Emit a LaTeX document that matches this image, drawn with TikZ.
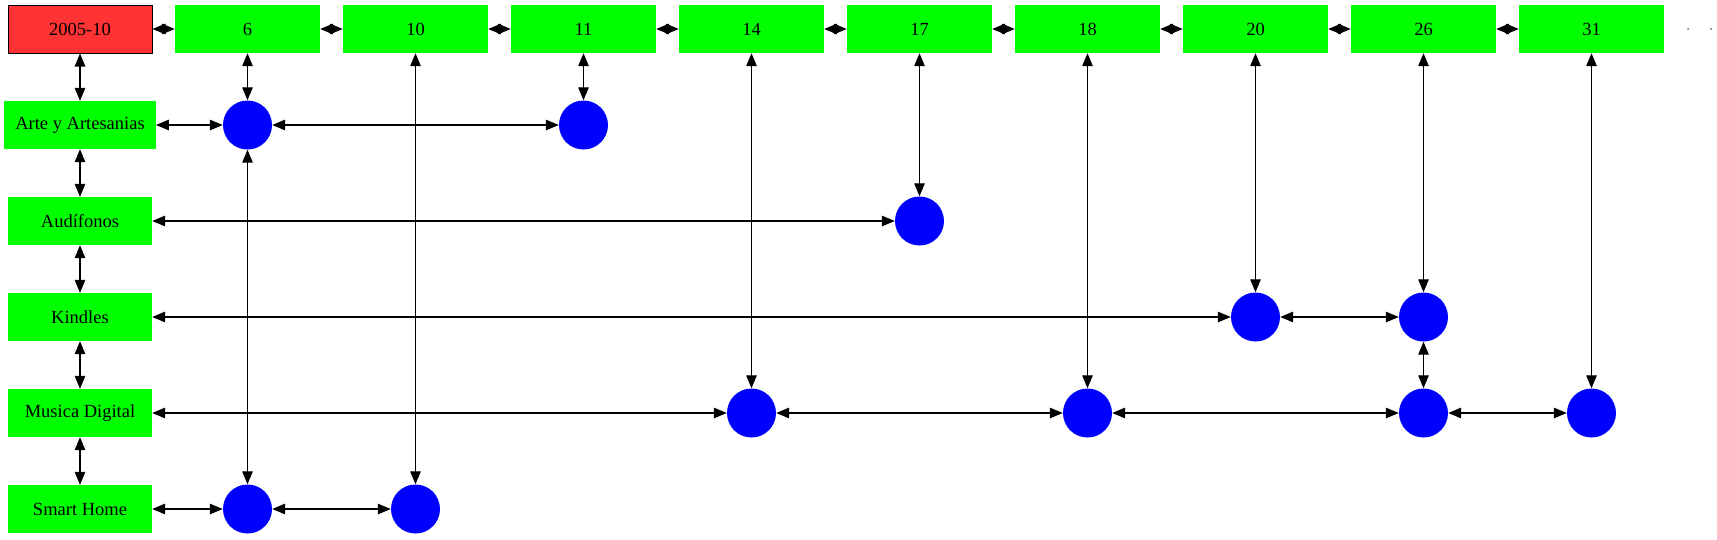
\documentclass[tikz,border=0pt]{standalone}
\usepackage{fontspec}
\setmainfont{Liberation Serif}
\usetikzlibrary{arrows.meta}
\definecolor{hred}{RGB}{255,51,51}
\definecolor{hgreen}{RGB}{0,255,0}
\definecolor{cblue}{RGB}{0,0,255}
\tikzset{
  lab/.style={font=\fontsize{18.5}{22}\selectfont, text=black},
  colbox/.style={lab, fill=hgreen, minimum width=145pt, minimum height=48pt, inner sep=0pt},
  rowbox/.style={lab, fill=hgreen, minimum width=144pt, minimum height=48pt, inner xsep=11pt, inner ysep=0pt},
  datebox/.style={lab, fill=hred, draw=black, line width=1pt, minimum width=144pt, minimum height=48pt, inner sep=0pt},
  dot/.style={circle, fill=cblue, minimum size=49pt, inner sep=0pt},
  tiny/.style={circle, fill=black!60, minimum size=2pt, inner sep=0pt},
  link/.style={line width=1.3pt, {Triangle[length=13pt,width=10.5pt]}-{Triangle[length=13pt,width=10.5pt]}}
}
\begin{document}
\begin{tikzpicture}[x=1pt,y=-1pt]
\useasboundingbox (0,0) rectangle (1717,539);
% header
\node[datebox] (h0) at (80,29) {2005-10};
\node[colbox] (h6) at (247.5,29) {6};
\node[colbox] (h10) at (415.5,29) {10};
\node[colbox] (h11) at (583.5,29) {11};
\node[colbox] (h14) at (751.5,29) {14};
\node[colbox] (h17) at (919.5,29) {17};
\node[colbox] (h18) at (1087.5,29) {18};
\node[colbox] (h20) at (1255.5,29) {20};
\node[colbox] (h26) at (1423.5,29) {26};
\node[colbox] (h31) at (1591.5,29) {31};
\node[tiny] (e1) at (1688,29) {};
\node[tiny] (e2) at (1711,29) {};
% rows
\node[rowbox] (rA) at (80,125) {Arte y Artesanias};
\node[rowbox] (rAu) at (80,221) {Audífonos};
\node[rowbox] (rK) at (80,317) {Kindles};
\node[rowbox] (rM) at (80,413) {Musica Digital};
\node[rowbox] (rS) at (80,509) {Smart Home};
% circles
\node[dot] (cA6) at (247.5,125) {};
\node[dot] (cA11) at (583.5,125) {};
\node[dot] (cAu17) at (919.5,221) {};
\node[dot] (cK20) at (1255.5,317) {};
\node[dot] (cK26) at (1423.5,317) {};
\node[dot] (cM14) at (751.5,413) {};
\node[dot] (cM18) at (1087.5,413) {};
\node[dot] (cM26) at (1423.5,413) {};
\node[dot] (cM31) at (1591.5,413) {};
\node[dot] (cS6) at (247.5,509) {};
\node[dot] (cS10) at (415.5,509) {};
% header chain
\draw[link] (h0) -- (h6);
\draw[link] (h6) -- (h10);
\draw[link] (h10) -- (h11);
\draw[link] (h11) -- (h14);
\draw[link] (h14) -- (h17);
\draw[link] (h17) -- (h18);
\draw[link] (h18) -- (h20);
\draw[link] (h20) -- (h26);
\draw[link] (h26) -- (h31);
% row chain
\draw[link] (h0) -- (rA);
\draw[link] (rA) -- (rAu);
\draw[link] (rAu) -- (rK);
\draw[link] (rK) -- (rM);
\draw[link] (rM) -- (rS);
% Arte
\draw[link] (rA) -- (cA6);
\draw[link] (cA6) -- (cA11);
\draw[link] (h6) -- (cA6);
\draw[link] (cA6) -- (cS6);
\draw[link] (h11) -- (cA11);
% Audifonos
\draw[link] (rAu) -- (cAu17);
\draw[link] (h17) -- (cAu17);
% Kindles
\draw[link] (rK) -- (cK20);
\draw[link] (cK20) -- (cK26);
\draw[link] (h20) -- (cK20);
\draw[link] (h26) -- (cK26);
\draw[link] (cK26) -- (cM26);
% Musica
\draw[link] (rM) -- (cM14);
\draw[link] (cM14) -- (cM18);
\draw[link] (cM18) -- (cM26);
\draw[link] (cM26) -- (cM31);
\draw[link] (h14) -- (cM14);
\draw[link] (h18) -- (cM18);
\draw[link] (h31) -- (cM31);
% Smart
\draw[link] (rS) -- (cS6);
\draw[link] (cS6) -- (cS10);
\draw[link] (h10) -- (cS10);
\end{tikzpicture}
\end{document}
